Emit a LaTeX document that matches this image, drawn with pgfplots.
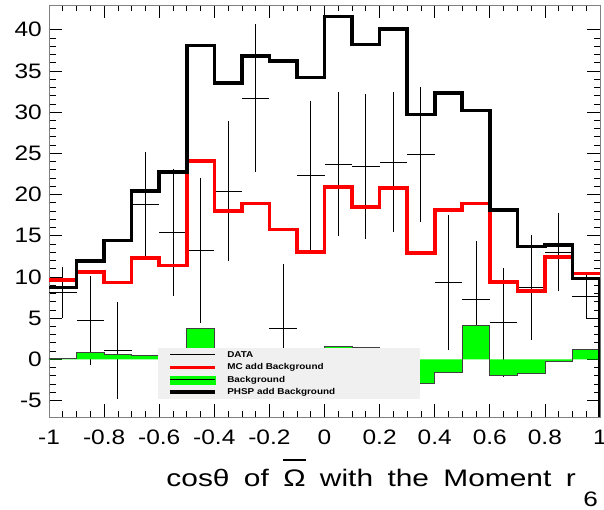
\documentclass[border=0pt]{standalone}
\usepackage{fontspec}
\setmainfont{Liberation Sans}
\usepackage{graphicx}
\usepackage{pgfplots}
\usepackage{pgfplotstable}
\pgfplotsset{compat=1.18}

\definecolor{rootgreen}{RGB}{0,255,0}
\definecolor{rootred}{RGB}{255,0,0}
\definecolor{legendbg}{RGB}{240,240,240}

% horizontally widened text, as the canvas draws it
\newcommand{\wide}[1]{\scalebox{1.17}[1]{#1}}

% histogram contents, one row per bin (low edge), last row closes the step
\pgfplotstableread{
lo   phsp  mc     bkg
-1.0 8.7   9.6    0.1
-0.9 11.9  10.6   0.8
-0.8 14.4  9.3    0.6
-0.7 20.4  12.3   0.45
-0.6 22.7  11.4   0.3
-0.5 38.1  24.1   3.8
-0.4 33.5  18.0   0.3
-0.3 36.8  18.9   0.2
-0.2 36.2  15.75  0.5
-0.1 34.2  13.0   0.8
0.0  41.6  20.9   1.6
0.1  38.2  18.5   1.45
0.2  40.1  20.8   -0.5
0.3  29.7  12.9   -2.9
0.4  32.3  18.1   -1.6
0.5  30.2  18.9   4.1
0.6  18.1  9.4    -2.0
0.7  13.7  8.3    -1.7
0.8  13.9  12.4   -0.25
0.9  9.8   10.4   1.15
1.0  9.8   10.4   1.15
}\histtab

% data points: bin centre, value, half bin width, error
\pgfplotstableread{
x     y      ex    ey
-0.95 8.1    0.05  3.1
-0.85 4.7    0.05  5.4
-0.75 1.1    0.05  5.9
-0.65 18.8   0.05  6.4
-0.55 15.35  0.05  7.7
-0.45 13.2   0.05  8.8
-0.35 20.4   0.05  8.5
-0.25 31.7   0.05  9.0
-0.15 3.75   0.05  7.8
-0.05 22.3   0.05  9.1
0.05  23.7   0.05  8.7
0.15  23.4   0.05  8.8
0.25  23.9   0.05  8.5
0.35  24.9   0.05  8.2
0.45  9.3    0.05  8.2
0.55  7.3    0.05  7.0
0.65  4.5    0.05  6.6
0.75  8.7    0.05  6.4
0.85  13.0   0.05  4.7
0.95  7.6    0.05  2.65
}\datatab

\begin{document}
\begin{tikzpicture}
\begin{axis}[
  at={(0,0)}, anchor=south west,
  scale only axis, width=551bp, height=412bp,
  xmin=-1, xmax=1, ymin=-7, ymax=43,
  xtick={-1,-0.8,-0.6,-0.4,-0.2,0,0.2,0.4,0.6,0.8,1},
  ytick={-5,0,5,10,15,20,25,30,35,40},
  minor x tick num=3, minor y tick num=4,
  tick align=inside,
  major tick length=13bp, minor tick length=6.5bp,
  axis line style={black!50, line width=0.8bp},
  every tick/.style={black, line width=0.7bp},
  xticklabel={\wide{\pgfmathprintnumber[assume math mode=true]{\tick}}},
  yticklabel={\wide{\pgfmathprintnumber[assume math mode=true]{\tick}}},
  xticklabel style={font=\fontsize{21}{24}\selectfont, anchor=north, inner sep=0pt, yshift=-13bp},
  yticklabel style={font=\fontsize{21}{24}\selectfont, anchor=east, inner sep=0pt, xshift=-7bp},
  xlabel={\scalebox{1.25}[1]{\spaceskip=11.5bp cosθ of \makebox[0pt][l]{\raisebox{26bp}{\rule{18.4bp}{1.3bp}}}Ω with the Moment r\hspace{6bp}\raisebox{-20bp}{\fontsize{21}{21}\selectfont 6}}},
  xlabel style={font=\fontsize{24}{27}\selectfont, at={(axis description cs:1,0)}, anchor=base east, inner sep=0pt, yshift=-69.7bp, xshift=-2bp},
  legend style={at={(axis description cs:0.198,0.1675)}, anchor=north west,
    fill=legendbg, draw=none, inner xsep=10bp, inner ysep=0.5bp,
    font=\fontsize{8.5}{10}\selectfont\bfseries,
    nodes={inner xsep=0bp, inner ysep=1.25bp, text height=7.5bp, text depth=2.5bp},
    column sep=10bp, row sep=0bp},
  legend cell align=left,
]

% data with error bars (drawn first, lies under the histograms)
\addplot[forget plot, draw=none, mark=none,
  error bars/.cd, x dir=both, x explicit, y dir=both, y explicit,
  error mark=none, error bar style={draw=black, line width=0.9bp}]
  table[x=x, y=y, x error=ex, y error=ey] {\datatab};

% background: filled steps plus outline
\addplot[forget plot, const plot, fill=rootgreen, draw=none]
  table[x=lo, y=bkg] {\histtab} \closedcycle;
\addplot[forget plot, const plot, draw=black!75, line width=0.8bp]
  table[x=lo, y=bkg] {\histtab};

% MC add background
\addplot[forget plot, const plot, draw=rootred, line width=3.6bp]
  table[x=lo, y=mc] {\histtab};

% PHSP add background, with the closing edge at the upper end
\addplot[forget plot, const plot, draw=black, line width=3.6bp]
  table[x=lo, y=phsp] {\histtab};
\addplot[forget plot, draw=black, line width=3.6bp]
  coordinates {(1,9.8) (1,-7)};

\addlegendimage{legend image code/.code={\draw[black, line width=0.9bp] (0bp,0bp) -- (45bp,0bp);}}
\addlegendentry{\wide{\makebox[156bp][l]{DATA}}}
\addlegendimage{legend image code/.code={\draw[rootred, line width=3.3bp] (0bp,0bp) -- (45bp,0bp);}}
\addlegendentry{\wide{MC add Background}}
\addlegendimage{legend image code/.code={\fill[rootgreen] (0bp,-4bp) rectangle (45bp,4bp); \draw[black, line width=0.9bp] (0bp,0bp) -- (45bp,0bp);}}
\addlegendentry{\wide{Background}}
\addlegendimage{legend image code/.code={\draw[black, line width=4bp] (0bp,0bp) -- (45bp,0bp);}}
\addlegendentry{\wide{PHSP add Background}}
\end{axis}
\pgfresetboundingbox
\path[use as bounding box] (-49bp,-93bp) rectangle (555bp,417bp);
\end{tikzpicture}
\end{document}
